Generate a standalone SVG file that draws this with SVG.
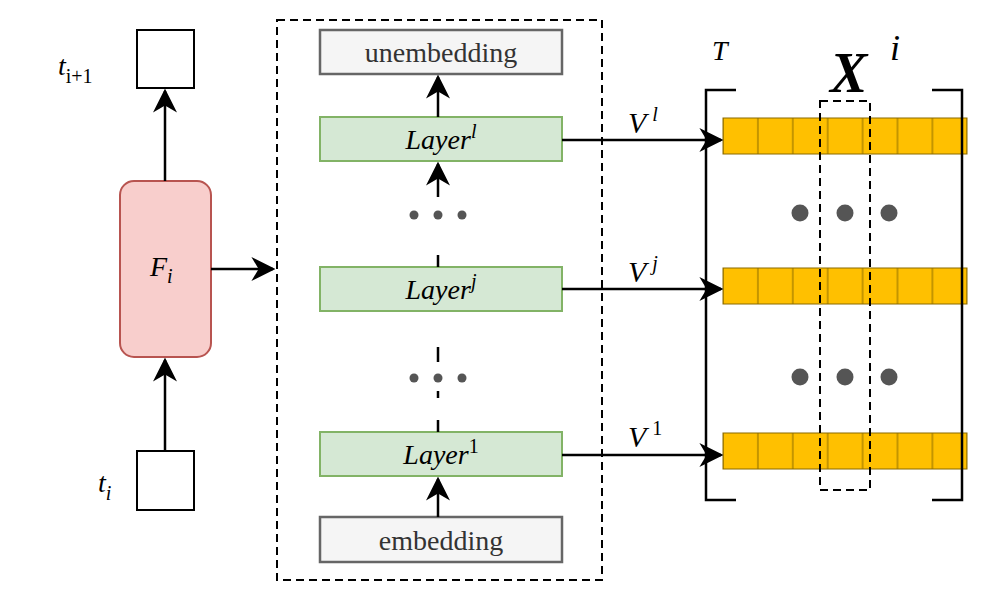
<svg xmlns="http://www.w3.org/2000/svg" width="996" height="593" viewBox="0 0 996 593">
<style>
.m{font-family:"Liberation Serif",serif;font-style:italic;fill:#000}
.g{fill:#d5e8d4;stroke:#82b366;stroke-width:2}
.e{fill:#f5f5f5;stroke:#666;stroke-width:2.5}
.c{fill:#ffc000;stroke:#8a6a00;stroke-width:1}
.ln{stroke:#000;stroke-width:2.5;fill:none}
.d{fill:#555}
</style>
<defs>
<marker id="a" viewBox="0 0 10 10" refX="9" refY="5" markerWidth="10" markerHeight="10" markerUnits="userSpaceOnUse" orient="auto"><path d="M0,0 L10,5 L0,10 L3,5z" fill="#000"/></marker>
<marker id="A" viewBox="0 0 10 10" refX="9" refY="5" markerWidth="24" markerHeight="24" markerUnits="userSpaceOnUse" orient="auto"><path d="M0,0 L10,5 L0,10 L3,5z" fill="#000"/></marker>
<pattern id="cells" x="723" y="0" width="34.9" height="593" patternUnits="userSpaceOnUse"><rect x="0" y="0" width="34.9" height="593" fill="#ffc000" stroke="#8a6a00" stroke-width="1"/></pattern>
</defs>
<rect x="277" y="20" width="325" height="560" fill="none" stroke="#000" stroke-width="2" stroke-dasharray="8,5"/>
<g id="tnext"><rect x="137" y="30" width="57" height="58" fill="#fff" stroke="#000" stroke-width="2"/><text class="m" x="58" y="75" font-size="28">t<tspan font-size="20" dy="8" font-style="normal">i+1</tspan></text></g>
<g id="ti"><rect x="137" y="451" width="57" height="59" fill="#fff" stroke="#000" stroke-width="2"/><text class="m" x="98" y="492" font-size="28">t<tspan font-size="20" dy="8">i</tspan></text></g>
<g id="F"><rect x="120" y="181" width="91" height="176" rx="14" fill="#f8cecc" stroke="#b85450" stroke-width="2"/><text class="m" x="150" y="276" font-size="28">F<tspan font-size="20" dy="7">i</tspan></text></g>
<g id="unemb"><rect class="e" x="320" y="30" width="242" height="44"/><text x="441" y="62" font-family="Liberation Serif,serif" font-size="28" fill="#333" text-anchor="middle">unembedding</text></g>
<g id="Ll"><rect class="g" x="320" y="117" width="242" height="44"/><text class="m" x="441" y="149" font-size="28" text-anchor="middle">Layer<tspan font-size="20" dy="-11">l</tspan></text></g>
<g id="Lj"><rect class="g" x="320" y="267" width="242" height="44"/><text class="m" x="441" y="299" font-size="28" text-anchor="middle">Layer<tspan font-size="20" dy="-11">j</tspan></text></g>
<g id="L1"><rect class="g" x="320" y="432" width="242" height="44"/><text class="m" x="441" y="464" font-size="28" text-anchor="middle">Layer<tspan font-size="20" dy="-11" font-style="normal">1</tspan></text></g>
<g id="emb"><rect class="e" x="320" y="517" width="242" height="45"/><text x="441" y="550" font-family="Liberation Serif,serif" font-size="28" fill="#333" text-anchor="middle">embedding</text></g>
<g id="dots"><circle class="d" cx="414" cy="215" r="4.5"/><circle class="d" cx="438" cy="215" r="4.5"/><circle class="d" cx="462" cy="215" r="4.5"/><circle class="d" cx="414" cy="378" r="4.5"/><circle class="d" cx="438" cy="378" r="4.5"/><circle class="d" cx="462" cy="378" r="4.5"/>
<circle class="d" cx="800" cy="213" r="8.5"/><circle class="d" cx="845" cy="213" r="8.5"/><circle class="d" cx="889" cy="213" r="8.5"/><circle class="d" cx="800" cy="377" r="8.5"/><circle class="d" cx="845" cy="377" r="8.5"/><circle class="d" cx="889" cy="377" r="8.5"/></g>
<g id="matrix">
<rect x="723" y="118" width="244" height="36" fill="url(#cells)" stroke="#8a6a00"/>
<rect x="723" y="268" width="244" height="36" fill="url(#cells)" stroke="#8a6a00"/>
<rect x="723" y="433" width="244" height="36" fill="url(#cells)" stroke="#8a6a00"/>
<path class="ln" d="M736,90 H706 V500 H736 M932,90 H962 V500 H932"/>
<rect x="820" y="101" width="50" height="389" fill="none" stroke="#000" stroke-width="2" stroke-dasharray="8,5"/>
<text class="m" x="712" y="60" font-size="28">T</text>
<text x="830" y="92" font-family="Liberation Serif,serif" font-size="56" font-weight="bold" font-style="italic">X</text>
<text class="m" x="890" y="60" font-size="36">i</text>
</g>
<g id="connectors">
<path class="ln" d="M165,451 V360" marker-end="url(#A)"/>
<path class="ln" d="M165,181 V91" marker-end="url(#A)"/>
<path class="ln" d="M211,269 H273" marker-end="url(#A)"/>
<path class="ln" d="M438,517 V479" marker-end="url(#A)"/>
<path class="ln" d="M438,420 V432 M438,347 V362"/>
<path class="ln" d="M438,267 V255 M438,197 V164" marker-end="url(#A)"/>
<path class="ln" d="M438,117 V77" marker-end="url(#A)"/>
<path class="ln" d="M438,391 V398" />
<path class="ln" d="M562,140 H721" marker-end="url(#A)"/>
<path class="ln" d="M562,289 H721" marker-end="url(#A)"/>
<path class="ln" d="M562,455 H721" marker-end="url(#A)"/>
<text class="m" x="628" y="133" font-size="30">V<tspan font-size="20" dy="-12" dx="6">l</tspan></text>
<text class="m" x="628" y="282" font-size="30">V<tspan font-size="20" dy="-12" dx="6">j</tspan></text>
<text class="m" x="628" y="447" font-size="30">V<tspan font-size="20" dy="-12" dx="6" font-style="normal">1</tspan></text>
</g>
</svg>
